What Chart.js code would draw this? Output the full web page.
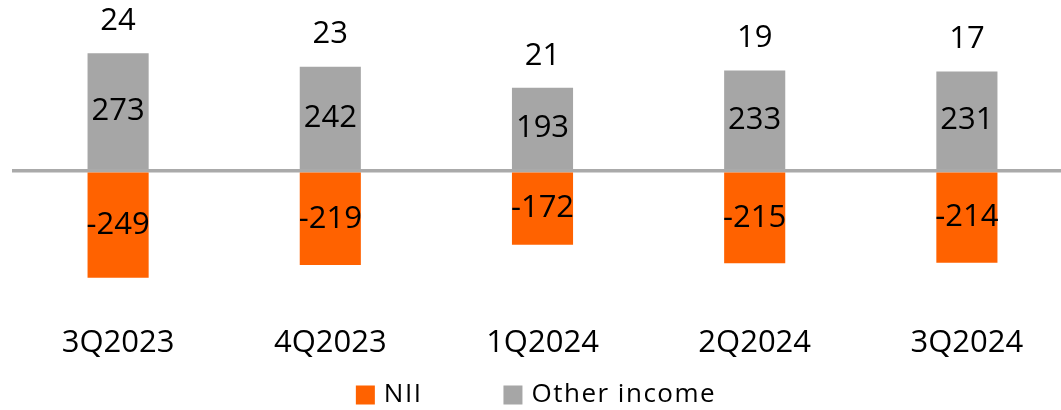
<!DOCTYPE html>
<html>
<head>
<meta charset="utf-8">
<script src="https://cdn.jsdelivr.net/npm/chart.js@4.4.1/dist/chart.umd.min.js"></script>
<style>
html,body{margin:0;padding:0;background:#fff;overflow:hidden;}
#wrap{width:1061px;height:410px;position:relative;overflow:hidden;}
#c{position:absolute;left:0;top:0;}
</style>
</head>
<body>
<div id="wrap"><canvas id="c" width="1073" height="410"></canvas></div>
<script>
const categories = ['3Q2023', '4Q2023', '1Q2024', '2Q2024', '3Q2024'];
const niiValues = [-249, -219, -172, -215, -214];
const otherIncomeValues = [273, 242, 193, 233, 231];
const totalLabels = [24, 23, 21, 19, 17];
const seriesNames = ['NII', 'Other income'];

const FONT = "'Open Sans', 'Noto Sans', sans-serif";
Chart.defaults.font.family = FONT;
Chart.defaults.color = '#000';

const barLabels = {
  id: 'barLabels',
  afterDatasetsDraw(chart, args, opts) {
    const ctx = chart.ctx;
    ctx.save();
    ctx.font = opts.size + 'px ' + FONT;
    ctx.fillStyle = opts.color;
    ctx.textAlign = 'center';
    ctx.textBaseline = 'middle';
    chart.data.datasets.forEach((ds, di) => {
      const meta = chart.getDatasetMeta(di);
      meta.data.forEach((el, i) => {
        ctx.fillText(String(ds.data[i]), el.x, (el.y + el.base) / 2 + opts.dy);
      });
    });
    const topMeta = chart.getDatasetMeta(1);
    topMeta.data.forEach((el, i) => {
      ctx.fillText(String(totalLabels[i]), el.x, el.y - opts.totalOffset + opts.dy);
    });
    ctx.restore();
  }
};

const customLegend = {
  id: 'customLegend',
  afterDraw(chart, args, o) {
    const ctx = chart.ctx;
    ctx.save();
    ctx.font = o.size + 'px ' + FONT;
    if ('letterSpacing' in ctx) ctx.letterSpacing = o.letterSpacing + 'px';
    ctx.textBaseline = 'middle';
    ctx.textAlign = 'left';
    const items = chart.data.datasets.map(ds => ({
      text: ds.label, color: ds.backgroundColor, w: ctx.measureText(ds.label).width
    }));
    const total = items.reduce((s, it) => s + o.box + o.gap + it.w, 0) + o.itemGap * (items.length - 1);
    let x = o.centerX - total / 2;
    items.forEach(it => {
      ctx.fillStyle = it.color;
      ctx.fillRect(x, o.y - o.box / 2, o.box, o.box);
      x += o.box + o.gap;
      ctx.fillStyle = o.color;
      ctx.fillText(it.text, x, o.y + o.textDy);
      x += it.w + o.itemGap;
    });
    ctx.restore();
  }
};

new Chart(document.getElementById('c'), {
  type: 'bar',
  data: {
    labels: categories,
    datasets: [
      { label: seriesNames[0], data: niiValues, backgroundColor: '#ff6200', borderWidth: 0 },
      { label: seriesNames[1], data: otherIncomeValues, backgroundColor: '#a6a6a6', borderWidth: 0 }
    ]
  },
  options: {
    responsive: false,
    animation: false,
    events: [],
    layout: { padding: { left: 12, right: 0, top: 0, bottom: 24 } },
    datasets: { bar: { categoryPercentage: 1, barPercentage: 0.288 } },
    scales: {
      x: {
        stacked: true,
        grid: { display: false, drawTicks: false },
        border: { display: false },
        ticks: { padding: 24.5, font: { size: 31 }, color: '#000', maxRotation: 0 }
      },
      y: {
        stacked: true,
        min: -300,
        max: 397,
        z: 1,
        afterBuildTicks: (axis) => { axis.ticks = [{ value: 0 }]; },
        grid: { drawTicks: false, lineWidth: 3.5, color: '#aaaaaa' },
        border: { display: false },
        ticks: { display: false }
      }
    },
    plugins: {
      tooltip: { enabled: false },
      legend: { display: false },
      customLegend: { size: 26, letterSpacing: 1.5, color: '#000', box: 19, gap: 9, itemGap: 81, centerX: 536, y: 395, textDy: 0 },
      barLabels: { size: 31, color: '#000', totalOffset: 32, dy: 0 }
    }
  },
  plugins: [barLabels, customLegend]
});
</script>
</body>
</html>
